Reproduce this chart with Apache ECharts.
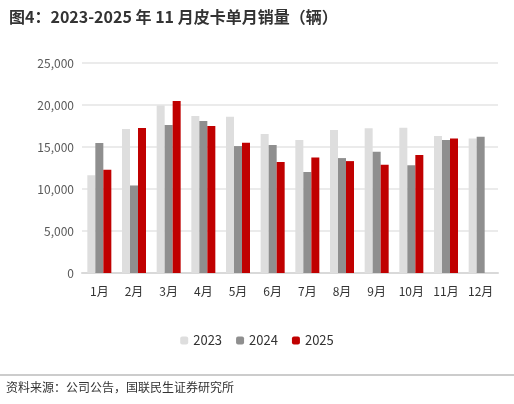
<!DOCTYPE html><html><head><meta charset="utf-8"><script src="https://cdn.jsdelivr.net/npm/echarts@6/dist/echarts.min.js"></script>
<style>body{margin:0}#c{width:514px;height:404px}</style></head><body><div id="c"></div><script>
const categories=['1月','2月','3月','4月','5月','6月','7月','8月','9月','10月','11月','12月'];
const s2023=[11650,17140,19950,18690,18610,16540,15830,17020,17220,17300,16300,16020];
const s2024=[15470,10420,17610,18090,15110,15230,12010,13680,14430,12840,15830,16220];
const s2025=[12290,17260,20480,17500,15510,13200,13760,13320,12880,14040,16020,null];
const yTicks=[0,5000,10000,15000,20000,25000];
const f='"Noto Sans CJK SC", sans-serif';
const c=echarts.init(document.getElementById('c'));
c.setOption({
 animation:false,
 title:{text:'图4：2023-2025 年 11 月皮卡单月销量（辆）',left:4,top:4,textStyle:{fontFamily:f,fontSize:16,fontWeight:'bold',color:'#333'}},
 graphic:[
  {type:'line',shape:{x1:0,y1:375,x2:514,y2:375},style:{stroke:'#999',lineWidth:1}},
  {type:'text',left:6,top:381,style:{text:'资料来源：公司公告，国联民生证券研究所',font:'12px '+f,fill:'#333'}}],
 legend:{bottom:52,itemWidth:8,itemHeight:8,itemGap:14,textStyle:{fontFamily:f,fontSize:13,color:'#333'},data:['2023','2024','2025']},
 grid:{left:82,right:16,top:63,bottom:131},
 xAxis:{type:'category',data:categories,axisTick:{show:false},axisLine:{lineStyle:{color:'#d9d9d9',width:2}},axisLabel:{fontFamily:f,fontSize:12,color:'#333',margin:12}},
 yAxis:{type:'value',min:0,max:25000,interval:5000,axisLabel:{fontFamily:f,fontSize:12,color:'#595959',formatter:v=>v.toLocaleString('en-US')},splitLine:{lineStyle:{color:'#e5e5e5',width:1.5}}},
 series:[
  {name:'2023',type:'bar',data:s2023,itemStyle:{color:'#dedede'},barWidth:8,barGap:'0%'},
  {name:'2024',type:'bar',data:s2024,itemStyle:{color:'#8f8f8f'},barWidth:8,barGap:'0%'},
  {name:'2025',type:'bar',data:s2025,itemStyle:{color:'#c00000'},barWidth:8,barGap:'0%'}]
});
</script></body></html>
